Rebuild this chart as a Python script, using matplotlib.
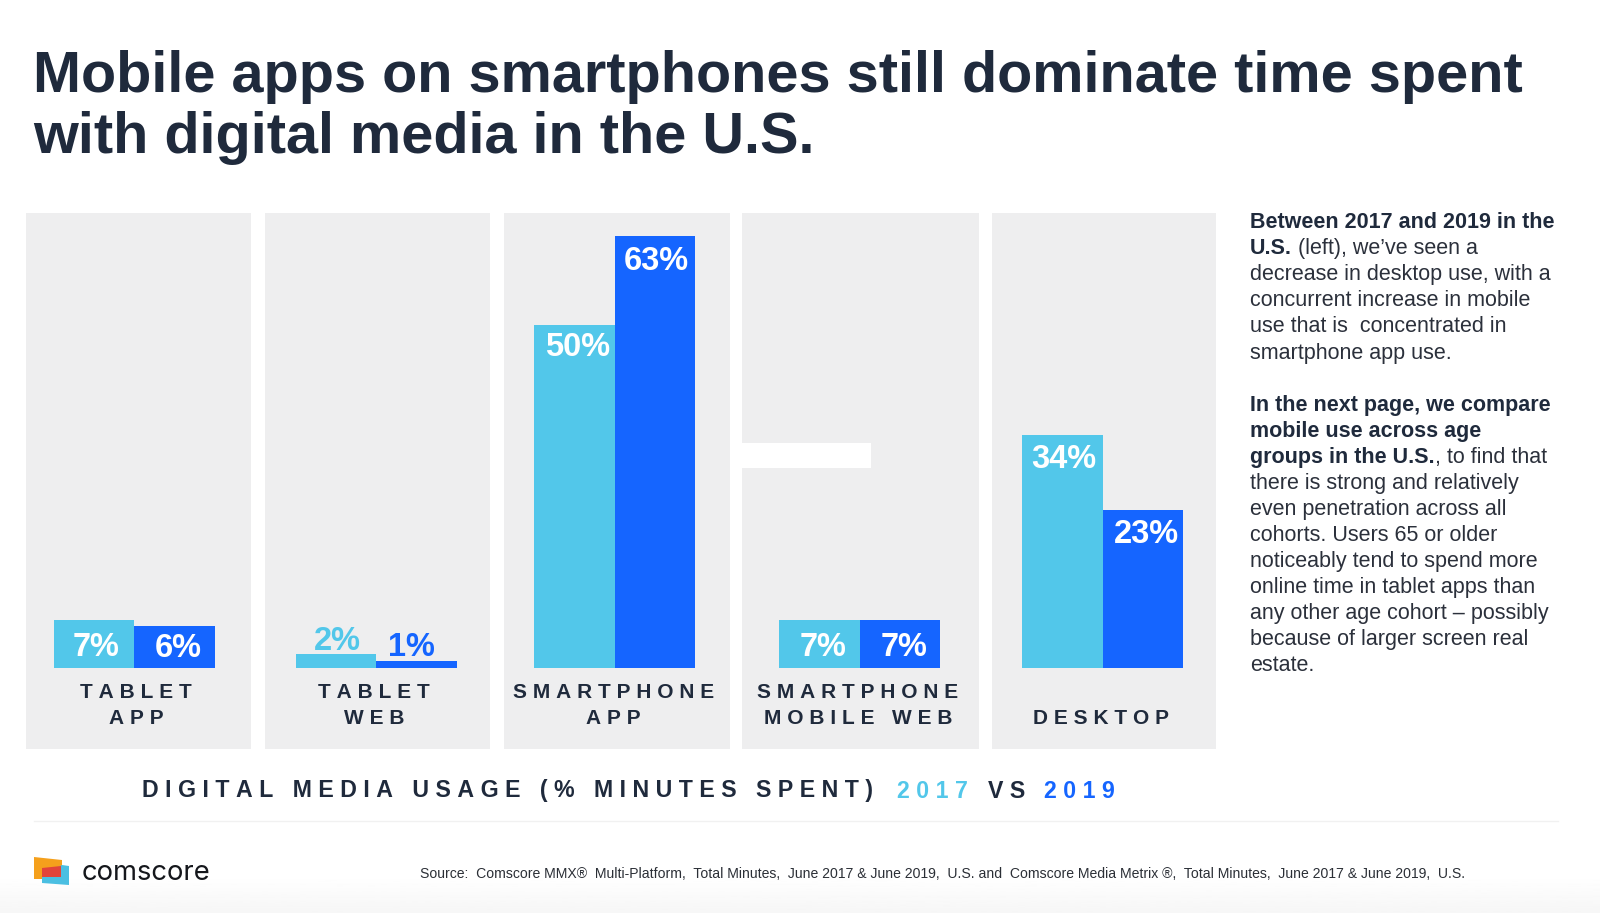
import numpy as np
import matplotlib
matplotlib.use("Agg")
import matplotlib.pyplot as plt
from matplotlib.patches import Polygon, Rectangle

plt.rcParams['font.family'] = ['Liberation Sans', 'DejaVu Sans']

# values
categories = [["TABLET", "APP"], ["TABLET", "WEB"], ["SMARTPHONE", "APP"], ["SMARTPHONE", "MOBILE WEB"], ["DESKTOP"]]
share_2017 = [7, 2, 50, 7, 34]
share_2019 = [6, 1, 63, 7, 23]

title_lines = ["Mobile apps on smartphones still dominate time spent", "with digital media in the U.S."]
source = "Source:  Comscore MMX®  Multi-Platform,  Total Minutes,  June 2017 & June 2019,  U.S. and  Comscore Media Metrix ®,  Total Minutes,  June 2017 & June 2019,  U.S."

# side text, one run per piece: (text, bold)
side_lines = [
    [("Between 2017 and 2019 in the", True)],
    [("U.S.", True), (" (left), we’ve seen a", False)],
    [("decrease in desktop use, with a", False)],
    [("concurrent increase in mobile", False)],
    [("use that is  concentrated in", False)],
    [("smartphone app use.", False)],
    [],
    [("In the next page, we compare", True)],
    [("mobile use across age", True)],
    [("groups in the U.S.", True), (", to find that", False)],
    [("there is strong and relatively", False)],
    [("even penetration across all", False)],
    [("cohorts. Users 65 or older", False)],
    [("noticeably tend to spend more", False)],
    [("online time in tablet apps than", False)],
    [("any other age cohort – possibly", False)],
    [("because of larger screen real", False)],
    [("estate.", False)],
]

# layout, in pixels of the 1600x913 picture
W, H = 1600, 913
panels = [(26, 251), (265, 490), (504, 730), (742, 979), (992, 1216)]
panel_top, panel_bottom = 213.5, 749
group_mid = [134, 376, 614.5, 859.5, 1102.5]
cat_mid = [136, 374, 613.5, 858, 1101]
bar_w = 80.5
base_y = 667.5
px_per_pct = 6.85
label_dx = [(2, 3.5), (1.5, -5), (3.5, 1.5), (4, 4), (2, 4)]
label_dy = [(24, 19), (-16, -17), (18.5, 22), (24, 24), (21, 21)]

DARK = "#1f2a3c"
LIGHT_BLUE = "#52c7ea"
BLUE = "#1565ff"
PANEL = "#eeeeef"


def tracked(s, sep="\u2009\u200a"):
    return sep.join(s)


fig = plt.figure(figsize=(W / 100, H / 100), dpi=100)
page = fig.add_axes([0, 0, 1, 1], zorder=0)
page.set_xlim(0, W)
page.set_ylim(H, 0)
page.axis("off")

# soft grey fade at the very bottom
fade = np.linspace(1, 0.965, 40).reshape(-1, 1)
page.imshow(fade, extent=(0, W, H, 875), cmap="gray", vmin=0, vmax=1, aspect="auto", zorder=0)
page.set_xlim(0, W)
page.set_ylim(H, 0)

for i, line in enumerate(title_lines):
    page.text(33, 91.5 + i * 61.5, line, fontsize=41.5, fontweight="bold", color=DARK, va="baseline")

for x0, x1 in panels:
    page.add_patch(Rectangle((x0, panel_top), x1 - x0, panel_bottom - panel_top, color=PANEL, lw=0))
page.add_patch(Rectangle((742, 443), 129, 25.5, color="white", lw=0, zorder=2))

# bars get their own axes, y in percent with 0 on the baseline
top_px = 200
ax = fig.add_axes([0, (H - base_y) / H, 1, (base_y - top_px) / H], zorder=1)
ax.patch.set_alpha(0)
ax.set_xlim(0, W)
ax.set_ylim(0, (base_y - top_px) / px_per_pct)
ax.axis("off")

mids = np.array(group_mid)
ax.bar(mids - bar_w / 2, share_2017, width=bar_w, color=LIGHT_BLUE, lw=0)
ax.bar(mids + bar_w / 2, share_2019, width=bar_w, color=BLUE, lw=0)

for i in range(len(mids)):
    for j, vals in enumerate((share_2017, share_2019)):
        xc = mids[i] + (j - 0.5) * bar_w
        on_bar = label_dy[i][j] > 0
        if on_bar:
            col = "white"
        else:
            col = LIGHT_BLUE if j == 0 else BLUE
        ax.annotate(f"{vals[i]}%", (xc, vals[i]), xytext=(label_dx[i][j] * 0.72, -label_dy[i][j] * 0.72),
                    textcoords="offset points", ha="center", va="center_baseline",
                    fontsize=23.5, fontweight="bold", color=col)

for mid, cat in zip(cat_mid, categories):
    rows = [690.5, 717] if len(cat) == 2 else [717]
    for y, row in zip(rows, cat):
        page.text(mid, y, tracked(row), fontsize=15, fontweight="bold", color=DARK,
                  ha="center", va="center_baseline")

# caption in three colours
caption = [("DIGITAL MEDIA USAGE (% MINUTES SPENT)", 142, DARK), ("2017", 897, LIGHT_BLUE),
           ("VS", 988, DARK), ("2019", 1044, BLUE)]
for s, x, col in caption:
    page.text(x, 788.5, tracked(s), fontsize=16.7, fontweight="bold", color=col, va="center_baseline")

page.plot([34, 1558], [821.5, 821.5], color="#f1f1f1", lw=1)

# side text
renderer = fig.canvas.get_renderer()
for i, runs in enumerate(side_lines):
    x = 1250
    for s, bold in runs:
        lead = s.startswith(" ")
        t = page.text(x + (6 if lead else 0), 228.3 + i * 26.05, s.strip(" ") if lead else s, fontsize=15.5,
                      fontweight="bold" if bold else "normal", color=DARK if bold else "#2b303b", va="baseline")
        x = t.get_window_extent(renderer).x1

# logo
page.add_patch(Polygon([(34, 857), (62, 860), (62, 879), (34, 879)], color="#f5a01c", lw=0))
page.add_patch(Polygon([(42, 875), (62, 865), (69, 866), (69, 885), (42, 883)], color="#4bbfe2", lw=0))
page.add_patch(Polygon([(42, 868), (61, 866), (61, 877), (42, 877)], color="#e2443a", lw=0))
page.text(82, 880, "comscore", family="Inter", fontsize=19.7, color="#15171c", va="baseline")

page.text(419.5, 872, source, fontsize=10.12, color="#2b2f36", va="center_baseline")

fig.savefig("out.png", dpi=100)
